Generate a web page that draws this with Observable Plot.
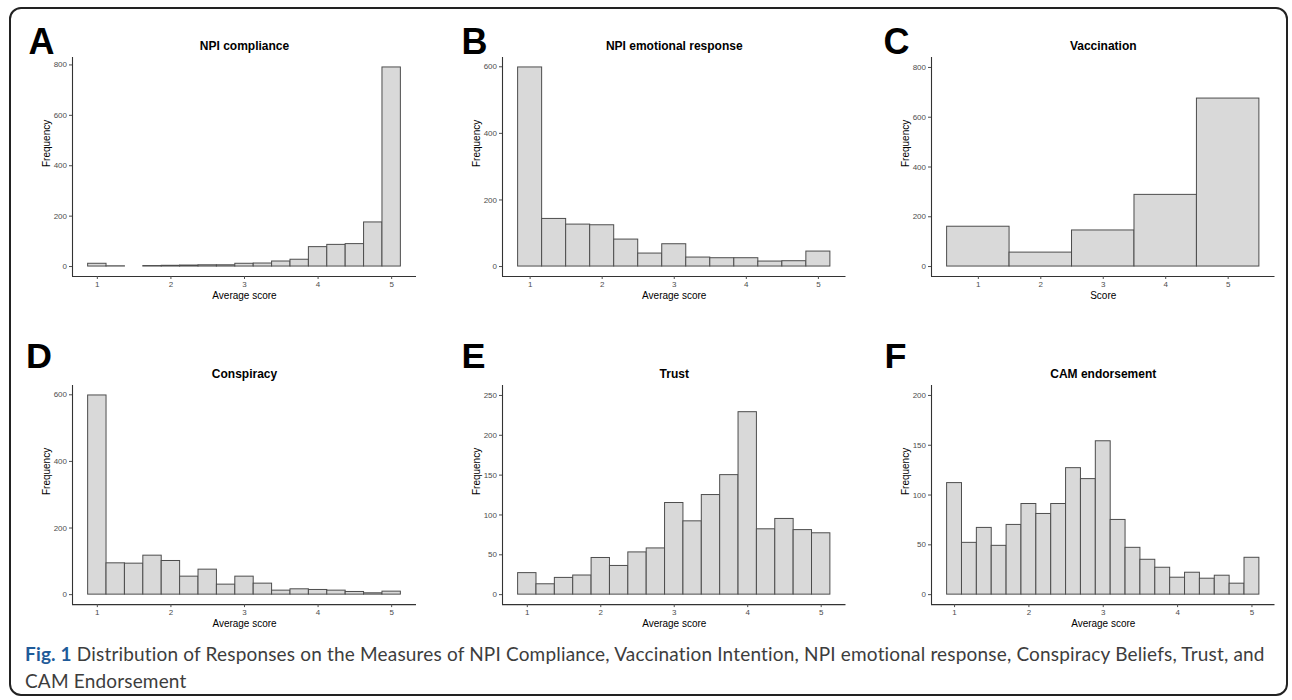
<!DOCTYPE html>
<html><head><meta charset="utf-8">
<script src="https://cdn.jsdelivr.net/npm/d3@7"></script>
<script src="https://cdn.jsdelivr.net/npm/@observablehq/plot@0.6"></script>
<style>
html,body{margin:0;padding:0;background:#fff;}
#root{position:relative;width:1292px;height:700px;overflow:hidden;background:#fff;}
#border{position:absolute;left:9px;top:7px;width:1279px;height:689px;box-sizing:border-box;border:2px solid #222;border-radius:12px;}
#caption{position:absolute;left:25px;top:640px;font-family:Lato,"Open Sans",sans-serif;font-size:19px;line-height:27px;color:#3d3d3d;white-space:nowrap;}
#caption b{color:#1f5b99;font-weight:700;}
#caption div{display:block;}
#caption span.l{display:inline-block;}
</style></head>
<body>
<div id="root">
  <div id="border"></div>
  <div id="caption">
    <div><span class="l" id="line1"><b>Fig. 1</b> Distribution of Responses on the Measures of NPI Compliance, Vaccination Intention, NPI emotional response, Conspiracy Beliefs, Trust, and</span></div>
    <div><span class="l" id="line2">CAM Endorsement</span></div>
  </div>
</div>
<script>
// ---------- data ----------
const binsA = [1, 1.25, 1.5, 1.75, 2, 2.25, 2.5, 2.75, 3, 3.25, 3.5, 3.75, 4, 4.25, 4.5, 4.75, 5];
const countsA = [11, 1, 0, 2, 3, 4, 5, 5, 11, 12, 20, 27, 77, 86, 89, 175, 790];
const widthA = 0.25;

const binsB = [1, 4/3, 5/3, 2, 7/3, 8/3, 3, 10/3, 11/3, 4, 13/3, 14/3, 5];
const countsB = [598, 143, 126, 124, 81, 39, 67, 27, 25, 25, 15, 16, 45];
const widthB = 1/3;

const scoresC = [1, 2, 3, 4, 5];
const countsC = [160, 56, 145, 288, 675];
const widthC = 1;

const binsD = [1, 1.25, 1.5, 1.75, 2, 2.25, 2.5, 2.75, 3, 3.25, 3.5, 3.75, 4, 4.25, 4.5, 4.75, 5];
const countsD = [598, 94, 93, 117, 101, 54, 75, 30, 54, 33, 12, 16, 14, 12, 8, 4, 9];
const widthD = 0.25;

const binsE = [1, 1.25, 1.5, 1.75, 2, 2.25, 2.5, 2.75, 3, 3.25, 3.5, 3.75, 4, 4.25, 4.5, 4.75, 5];
const countsE = [27, 13, 21, 24, 46, 36, 53, 58, 115, 92, 125, 150, 229, 82, 95, 81, 77];
const widthE = 0.25;

const binsF = [1, 1.2, 1.4, 1.6, 1.8, 2, 2.2, 2.4, 2.6, 2.8, 3, 3.2, 3.4, 3.6, 3.8, 4, 4.2, 4.4, 4.6, 4.8, 5];
const countsF = [112, 52, 67, 49, 70, 91, 81, 91, 127, 116, 154, 75, 47, 35, 27, 17, 22, 16, 19, 11, 37];
const widthF = 0.2;

const xTicks = [1, 2, 3, 4, 5];
const yTicks800 = [0, 200, 400, 600, 800];
const yTicks600 = [0, 200, 400, 600];
const yTicks250 = [0, 50, 100, 150, 200, 250];
const yTicks200 = [0, 50, 100, 150, 200];

const titles = ["NPI compliance", "NPI emotional response", "Vaccination", "Conspiracy", "Trust", "CAM endorsement"];
const letters = ["A", "B", "C", "D", "E", "F"];
const xLabels = ["Average score", "Average score", "Score", "Average score", "Average score", "Average score"];
const yLabel = "Frequency";

// ---------- layout ----------
const root = document.getElementById("root");
const cols = [[72, 416], [501.5, 845], [931, 1274.5]];
const rows = [[56.5, 275.5], [385.2, 604.3]];
const letterX = [28, 460.5, 883, 25.5, 460.5, 884];
const letterBase = [53, 53, 53, 368, 368, 368];
const FONT = "'Liberation Sans', Arial, Helvetica, sans-serif";

function expand(lo, hi) { const d = (hi - lo) * 0.05; return [lo - d, hi + d]; }

function panel(i, bins, counts, w, yDomain, yTicks) {
  const [L, R] = cols[i % 3];
  const [T, B] = rows[Math.floor(i / 3)];
  const ML = 70, MR = 10, MT = 50, MB = 32;
  const xDomain = expand(bins[0] - w / 2, bins[bins.length - 1] + w / 2);
  const data = bins.map((b, k) => ({x: b, n: counts[k]})).filter(d => d.n > 0);
  const chart = Plot.plot({
    width: R - L + ML + MR,
    height: B - T + MT + MB,
    marginLeft: ML, marginRight: MR, marginTop: MT, marginBottom: MB,
    style: {background: "transparent", fontFamily: FONT, fontSize: "10px", color: "#000", overflow: "visible"},
    x: {domain: xDomain},
    y: {domain: yDomain},
    marks: [
      Plot.rect(data, {x1: d => d.x - w / 2, x2: d => d.x + w / 2, y1: 0, y2: "n",
        fill: "#d9d9d9", stroke: "#4d4d4d", strokeWidth: 1}),
      Plot.ruleX([xDomain[0]], {stroke: "#333", strokeWidth: 1.1}),
      Plot.ruleY([yDomain[0]], {stroke: "#333", strokeWidth: 1.1}),
      Plot.axisX({ticks: xTicks, tickFormat: d => String(d), tickSize: 3, tickPadding: 2, fontSize: 8, color: "#4d4d4d", label: null}),
      Plot.axisY({ticks: yTicks, tickFormat: d => String(d), tickSize: 3, tickPadding: 2.5, fontSize: 8, color: "#4d4d4d", label: null}),
      Plot.text([xLabels[i]], {frameAnchor: "bottom", dy: 19, lineAnchor: "middle", fontSize: 10, fill: "#000"}),
      Plot.text([yLabel], {frameAnchor: "left", dx: -26, rotate: -90, lineAnchor: "middle", fontSize: 10, fill: "#000"}),
      Plot.text([titles[i]], {frameAnchor: "top", dy: -7.5, lineAnchor: "bottom", fontSize: 12, fontWeight: "bold", fill: "#000"}),
      Plot.text([letters[i]], {frameAnchor: "top-left", dx: letterX[i] - L, dy: letterBase[i] - T,
        lineAnchor: "bottom", textAnchor: "start", fontSize: 36, fontWeight: "bold", fill: "#000"})
    ]
  });
  chart.style.position = "absolute";
  chart.style.left = (L - ML) + "px";
  chart.style.top = (T - MT) + "px";
  chart.style.maxWidth = "none";
  root.appendChild(chart);
}

const maxA = d3.max(countsA), maxB = d3.max(countsB), maxD = d3.max(countsD);
panel(0, binsA, countsA, widthA, expand(0, maxA), yTicks800);
panel(1, binsB, countsB, widthB, expand(0, maxB), yTicks600);
panel(2, scoresC, countsC, widthC, expand(0, 800), yTicks800);
panel(3, binsD, countsD, widthD, expand(0, maxD), yTicks600);
panel(4, binsE, countsE, widthE, expand(0, 250), yTicks250);
panel(5, binsF, countsF, widthF, expand(0, 200), yTicks200);

// ---------- caption fitting ----------
function fitCaption() {
  const l1 = document.getElementById("line1");
  l1.style.letterSpacing = "0px";
  const wNow = l1.getBoundingClientRect().width;
  const target = 1241;
  const n = l1.textContent.length;
  const ls = (target - wNow) / n;
  l1.style.letterSpacing = ls + "px";
  document.getElementById("line2").style.letterSpacing = ls + "px";
}
fitCaption();
if (document.fonts && document.fonts.ready) document.fonts.ready.then(fitCaption);
</script>
</body></html>
